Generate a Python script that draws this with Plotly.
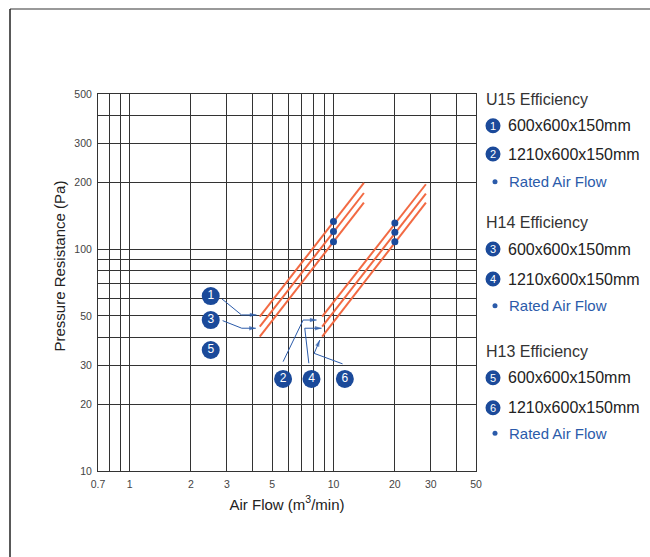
import numpy as np
import plotly.graph_objects as go

# ---------------- data ----------------
flow_600 = [4.35, 14.1]          # m3/min, 600x600x150mm filters
flow_1210 = [8.8, 28.4]          # m3/min, 1210x600x150mm filters
u15_600_pa = [49.6, 199]
h14_600_pa = [44.7, 179]
h13_600_pa = [40.3, 162]
u15_1210_pa = [49.6, 196]
h14_1210_pa = [44.7, 178]
h13_1210_pa = [40.3, 162]
rated_flow = [10, 10, 10, 20, 20, 20]
rated_pa = [133, 120, 108, 131, 119, 108]

x_grid = [0.7, 0.8, 0.9, 1, 2, 3, 4, 5, 6, 7, 8, 9, 10, 20, 30, 40, 50]
x_labels = ['0.7', '', '', '1', '2', '3', '', '5', '', '', '', '', '10', '20', '30', '', '50']
y_grid = [10, 20, 30, 40, 50, 60, 70, 80, 90, 100, 200, 300, 400, 500]
y_labels = ['10', '20', '30', '', '50', '', '', '', '', '100', '200', '300', '', '500']

callout_text = ['1', '3', '5', '2', '4', '6']
callout_flow = [2.5, 2.5, 2.5, 5.66, 7.8, 11.37]
callout_pa = [61.4, 47.9, 35.1, 26.0, 26.0, 26.0]

# arrow paths (flow, Pa) from callout to curve start
arrow_paths = [
    [(2.84, 59.6), (3.54, 50.5), (4.19, 50.5)],
    [(2.86, 47.6), (3.55, 44.0), (4.16, 44.0)],
    [(5.66, 31.1), (7.10, 47.9), (8.26, 47.9)],
    [(7.57, 30.6), (7.23, 44.0), (8.74, 44.0)],
    [(11.08, 30.4), (8.04, 33.9), (8.57, 38.9)],
]

legend_groups = ['U15 Efficiency', 'H14 Efficiency', 'H13 Efficiency']
legend_sizes = ['600x600x150mm', '1210x600x150mm']
legend_numbers = [['1', '2'], ['3', '4'], ['5', '6']]
rated_label = 'Rated Air Flow'

# ---------------- styling ----------------
ORANGE = '#F26A43'
BLUE = '#1B4A9A'
LINKBLUE = '#2B5BAA'
GRID = '#333333'
FONT = 'Liberation Sans, Arial, Helvetica, sans-serif'

W, H = 650, 557
ML, MR, MT, MB = 98, 174, 94, 86
PW, PH = W - ML - MR, H - MT - MB


def px(xpix):
    return (xpix - ML) / PW


def py(ypix):
    return (H - MB - ypix) / PH


fig = go.Figure()

for fx, fy in [(flow_600, u15_600_pa), (flow_600, h14_600_pa), (flow_600, h13_600_pa),
               (flow_1210, u15_1210_pa), (flow_1210, h14_1210_pa), (flow_1210, h13_1210_pa)]:
    fig.add_trace(go.Scatter(x=fx, y=fy, mode='lines',
                             line=dict(color=ORANGE, width=2), hoverinfo='skip'))

fig.add_trace(go.Scatter(x=rated_flow, y=rated_pa, mode='markers',
                         marker=dict(color=BLUE, size=7), hoverinfo='skip'))

# arrows (line + arrowhead marker oriented along the last segment)
for path in arrow_paths:
    xs = [p[0] for p in path]
    ys = [p[1] for p in path]
    sizes = [0] * (len(path) - 1) + [7]
    fig.add_trace(go.Scatter(x=xs, y=ys, mode='lines+markers',
                             line=dict(color=LINKBLUE, width=1),
                             marker=dict(symbol='arrow', size=sizes, angleref='previous',
                                         color=LINKBLUE, line=dict(width=0)),
                             hoverinfo='skip'))

fig.add_trace(go.Scatter(x=callout_flow, y=callout_pa, mode='markers+text',
                         text=callout_text, textposition='middle center',
                         textfont=dict(color='white', size=12, family=FONT),
                         marker=dict(color=BLUE, size=18), hoverinfo='skip'))

# ---------------- legend panel ----------------
group_y = [100, 222.7, 351.7]
item_y = [[125.7, 154], [249, 279], [377.7, 407.7]]
rated_y = [181.7, 305.7, 433.3]
shapes = []
for gi, g in enumerate(legend_groups):
    fig.add_annotation(x=px(484), y=py(group_y[gi]), xref='paper', yref='paper',
                       text=g, showarrow=False, xanchor='left', yanchor='middle',
                       font=dict(size=16, color='#333333', family=FONT))
    for si, s in enumerate(legend_sizes):
        yy = py(item_y[gi][si])
        shapes.append(dict(type='circle', xref='paper', yref='paper',
                           xsizemode='pixel', ysizemode='pixel',
                           xanchor=px(493), yanchor=yy, x0=-7.5, x1=7.5, y0=-7.5, y1=7.5,
                           fillcolor=BLUE, line=dict(width=0)))
        fig.add_annotation(x=px(493), y=yy, xref='paper', yref='paper',
                           text=legend_numbers[gi][si], showarrow=False,
                           xanchor='center', yanchor='middle',
                           font=dict(size=11, color='white', family=FONT))
        fig.add_annotation(x=px(506), y=yy, xref='paper', yref='paper',
                           text=s, showarrow=False, xanchor='left', yanchor='middle',
                           font=dict(size=16, color='#222222', family=FONT))
    yy = py(rated_y[gi])
    shapes.append(dict(type='circle', xref='paper', yref='paper',
                       xsizemode='pixel', ysizemode='pixel',
                       xanchor=px(495), yanchor=yy, x0=-2.5, x1=2.5, y0=-2.5, y1=2.5,
                       fillcolor=LINKBLUE, line=dict(width=0)))
    fig.add_annotation(x=px(507), y=yy, xref='paper', yref='paper',
                       text=rated_label, showarrow=False, xanchor='left', yanchor='middle',
                       font=dict(size=15, color=LINKBLUE, family=FONT))

# outer frame lines
shapes.append(dict(type='line', xref='paper', yref='paper', x0=px(10), x1=px(651),
                   y0=py(9), y1=py(9), line=dict(color='#777777', width=1.5)))
shapes.append(dict(type='line', xref='paper', yref='paper', x0=px(10), x1=px(10),
                   y0=py(9), y1=py(558), line=dict(color='#222222', width=1.5)))

# y axis title (sits above the plot centre in the reference)
fig.add_annotation(x=px(59), y=py(266.5), xref='paper', yref='paper',
                   text='Pressure Resistance (Pa)', textangle=-90, showarrow=False,
                   xanchor='center', yanchor='middle',
                   font=dict(size=15, color='#222222', family=FONT))

fig.update_layout(
    width=W, height=H,
    margin=dict(l=ML, r=MR, t=MT, b=MB, pad=0),
    paper_bgcolor='white', plot_bgcolor='white',
    showlegend=False,
    shapes=shapes,
    font=dict(family=FONT),
    xaxis=dict(type='log', range=[np.log10(0.7), np.log10(50)],
               title=dict(text='Air Flow (m<sup>3</sup>/min)', standoff=10,
                          font=dict(size=15, color='#222222', family=FONT)),
               tickmode='array', tickvals=x_grid, ticktext=x_labels,
               showgrid=True, gridcolor=GRID, gridwidth=1,
               showline=True, linecolor=GRID, linewidth=1, mirror=True,
               ticks='outside', ticklen=3, tickcolor='rgba(0,0,0,0)',
               tickfont=dict(size=10.5, color='#444444', family=FONT),
               zeroline=False, fixedrange=True, automargin=False),
    yaxis=dict(type='log', range=[1, np.log10(500)],
               tickmode='array', tickvals=y_grid, ticktext=y_labels,
               showgrid=True, gridcolor=GRID, gridwidth=1,
               showline=True, linecolor=GRID, linewidth=1, mirror=True,
               ticks='outside', ticklen=3, tickcolor='rgba(0,0,0,0)',
               tickfont=dict(size=10.5, color='#444444', family=FONT),
               zeroline=False, fixedrange=True, automargin=False),
)

fig.write_html('out.html')
